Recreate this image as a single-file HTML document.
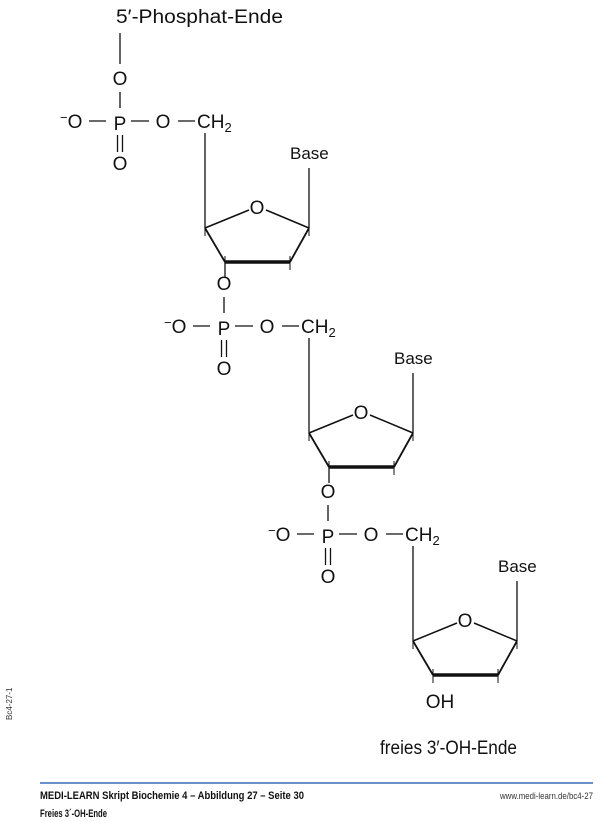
<!DOCTYPE html>
<html><head><meta charset="utf-8"><style>
html,body{margin:0;padding:0;background:#fff;}
svg{display:block;font-family:"Liberation Sans",sans-serif;}
</style></head><body>
<svg width="600" height="821" viewBox="0 0 600 821" xmlns="http://www.w3.org/2000/svg">
<defs>
<g id="core" fill="#111" stroke="#111">
  <text x="120" y="85" font-size="19" text-anchor="middle" stroke="none">O</text>
  <line x1="120" y1="92" x2="120" y2="108" stroke-width="1.3"/>
  <text x="120" y="130" font-size="19" text-anchor="middle" stroke="none">P</text>
  <line x1="117.5" y1="135" x2="117.5" y2="152" stroke-width="1.3"/>
  <line x1="122.5" y1="135" x2="122.5" y2="152" stroke-width="1.3"/>
  <text x="120" y="170" font-size="19" text-anchor="middle" stroke="none">O</text>
  <text x="60" y="128" font-size="19" stroke="none"><tspan font-size="13" dy="-6">−</tspan><tspan dy="6">O</tspan></text>
  <line x1="89" y1="121" x2="106" y2="121" stroke-width="1.3"/>
  <line x1="131" y1="121" x2="149" y2="121" stroke-width="1.3"/>
  <text x="163" y="128" font-size="19" text-anchor="middle" stroke="none">O</text>
  <line x1="178" y1="121" x2="195" y2="121" stroke-width="1.3"/>
  <text x="197" y="128" font-size="19" stroke="none">CH<tspan font-size="13" dy="4">2</tspan></text>
  <line x1="205" y1="133" x2="205" y2="228" stroke-width="1.3"/>
  <text x="290" y="159" font-size="17" stroke="none">Base</text>
  <line x1="309" y1="168" x2="309" y2="228" stroke-width="1.3"/>
  <text x="257" y="214" font-size="19" text-anchor="middle" stroke="none">O</text>
  <line x1="205" y1="228" x2="249" y2="210" stroke-width="1.5"/>
  <line x1="266" y1="210" x2="309" y2="228" stroke-width="1.5"/>
  <line x1="205" y1="228" x2="225" y2="262" stroke-width="1.8"/>
  <line x1="309" y1="228" x2="290" y2="262" stroke-width="1.8"/>
  <line x1="225" y1="262" x2="290" y2="262" stroke-width="3.5"/>
  <line x1="205" y1="222" x2="205" y2="236" stroke-width="1"/>
  <line x1="309" y1="222" x2="309" y2="236" stroke-width="1"/>
  <line x1="225" y1="256" x2="225" y2="270" stroke-width="1"/>
  <line x1="290" y1="256" x2="290" y2="270" stroke-width="1"/>
</g>
<g id="u">
  <use href="#core"/>
  <line x1="225" y1="262" x2="225" y2="278" stroke="#111" stroke-width="1.3"/>
</g>
</defs>
<text x="116" y="23" font-size="19" fill="#111" textLength="167" lengthAdjust="spacingAndGlyphs">5′-Phosphat-Ende</text>
<line x1="120" y1="33" x2="120" y2="64" stroke="#111" stroke-width="1.3"/>
<use href="#u"/>
<use href="#u" transform="translate(104,205)"/>
<g transform="translate(208,413)">
  <use href="#core"/>
  <text x="232" y="295" font-size="19" text-anchor="middle" fill="#111">OH</text>
</g>
<text x="380" y="754" font-size="19" fill="#111" textLength="137" lengthAdjust="spacingAndGlyphs">freies 3′-OH-Ende</text>
<line x1="40" y1="783" x2="593" y2="783" stroke="#3a6fb5" stroke-width="1.5"/>
<text x="40" y="799" font-size="11" font-weight="bold" fill="#111" textLength="264" lengthAdjust="spacingAndGlyphs">MEDI-LEARN Skript Biochemie 4 – Abbildung 27 – Seite 30</text>
<text x="500" y="799" font-size="9.5" fill="#333" textLength="93" lengthAdjust="spacingAndGlyphs">www.medi-learn.de/bc4-27</text>
<text x="40" y="817" font-size="11" font-weight="bold" fill="#111" textLength="67" lengthAdjust="spacingAndGlyphs">Freies 3´-OH-Ende</text>
<text transform="translate(12,720) rotate(-90)" font-size="8" fill="#333">Bc4-27-1</text>
</svg>
</body></html>
